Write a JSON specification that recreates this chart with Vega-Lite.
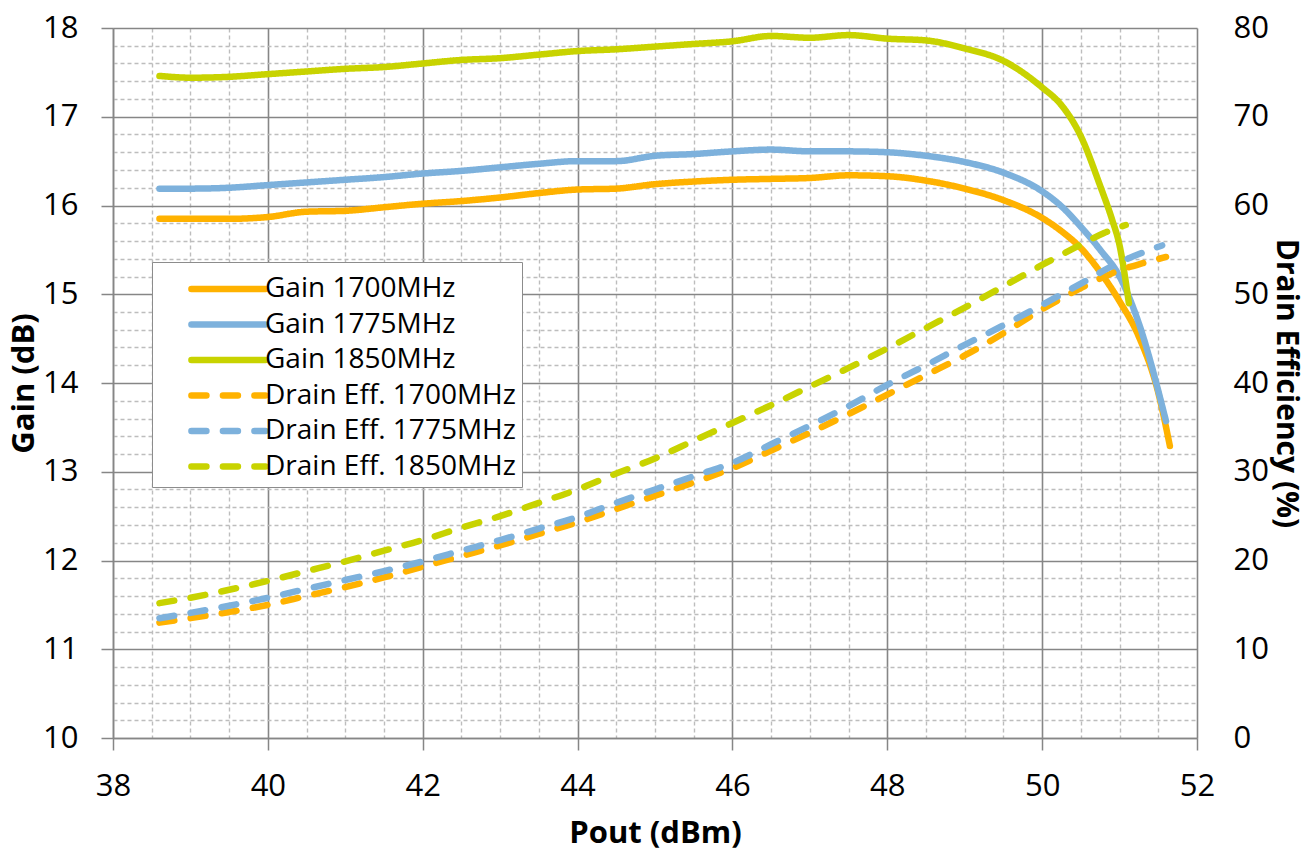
{
  "$schema": "https://vega.github.io/schema/vega-lite/v6.json",
  "width": 1084,
  "height": 710,
  "autosize": {"type": "none"},
  "padding": {"left": 113, "top": 28, "right": 118, "bottom": 116},
  "background": "white",
  "config": {
    "view": {"stroke": null},
    "font": "Open Sans",
    "axis": {
      "labelFont": "Open Sans",
      "labelFontSize": 31,
      "labelColor": "black",
      "titleFont": "Open Sans",
      "titleFontSize": 31,
      "titleFontWeight": "bold",
      "titleColor": "black",
      "domainColor": "#868686",
      "domainWidth": 1.5,
      "tickColor": "#868686",
      "tickWidth": 1.5,
      "tickSize": 12
    }
  },
  "data": {
    "values": [
      {"s": "Gain 1700MHz", "x": 38.6, "v": 15.85},
      {"s": "Gain 1700MHz", "x": 39, "v": 15.85},
      {"s": "Gain 1700MHz", "x": 39.5, "v": 15.85},
      {"s": "Gain 1700MHz", "x": 40, "v": 15.87},
      {"s": "Gain 1700MHz", "x": 40.5, "v": 15.93},
      {"s": "Gain 1700MHz", "x": 41, "v": 15.94},
      {"s": "Gain 1700MHz", "x": 41.5, "v": 15.98},
      {"s": "Gain 1700MHz", "x": 42, "v": 16.02},
      {"s": "Gain 1700MHz", "x": 42.5, "v": 16.05},
      {"s": "Gain 1700MHz", "x": 43, "v": 16.09},
      {"s": "Gain 1700MHz", "x": 43.5, "v": 16.14},
      {"s": "Gain 1700MHz", "x": 44, "v": 16.18},
      {"s": "Gain 1700MHz", "x": 44.5, "v": 16.19},
      {"s": "Gain 1700MHz", "x": 45, "v": 16.24},
      {"s": "Gain 1700MHz", "x": 45.5, "v": 16.27},
      {"s": "Gain 1700MHz", "x": 46, "v": 16.29},
      {"s": "Gain 1700MHz", "x": 46.5, "v": 16.30},
      {"s": "Gain 1700MHz", "x": 47, "v": 16.31},
      {"s": "Gain 1700MHz", "x": 47.5, "v": 16.34},
      {"s": "Gain 1700MHz", "x": 48, "v": 16.33},
      {"s": "Gain 1700MHz", "x": 48.5, "v": 16.28},
      {"s": "Gain 1700MHz", "x": 49, "v": 16.19},
      {"s": "Gain 1700MHz", "x": 49.5, "v": 16.06},
      {"s": "Gain 1700MHz", "x": 50, "v": 15.86},
      {"s": "Gain 1700MHz", "x": 50.25, "v": 15.71},
      {"s": "Gain 1700MHz", "x": 50.5, "v": 15.52},
      {"s": "Gain 1700MHz", "x": 50.75, "v": 15.25},
      {"s": "Gain 1700MHz", "x": 51, "v": 14.92},
      {"s": "Gain 1700MHz", "x": 51.25, "v": 14.52},
      {"s": "Gain 1700MHz", "x": 51.5, "v": 13.89},
      {"s": "Gain 1700MHz", "x": 51.65, "v": 13.29},

      {"s": "Gain 1775MHz", "x": 38.6, "v": 16.19},
      {"s": "Gain 1775MHz", "x": 39, "v": 16.19},
      {"s": "Gain 1775MHz", "x": 39.5, "v": 16.20},
      {"s": "Gain 1775MHz", "x": 40, "v": 16.23},
      {"s": "Gain 1775MHz", "x": 40.5, "v": 16.26},
      {"s": "Gain 1775MHz", "x": 41, "v": 16.29},
      {"s": "Gain 1775MHz", "x": 41.5, "v": 16.32},
      {"s": "Gain 1775MHz", "x": 42, "v": 16.36},
      {"s": "Gain 1775MHz", "x": 42.5, "v": 16.39},
      {"s": "Gain 1775MHz", "x": 43, "v": 16.43},
      {"s": "Gain 1775MHz", "x": 43.5, "v": 16.47},
      {"s": "Gain 1775MHz", "x": 44, "v": 16.50},
      {"s": "Gain 1775MHz", "x": 44.5, "v": 16.50},
      {"s": "Gain 1775MHz", "x": 45, "v": 16.56},
      {"s": "Gain 1775MHz", "x": 45.5, "v": 16.58},
      {"s": "Gain 1775MHz", "x": 46, "v": 16.61},
      {"s": "Gain 1775MHz", "x": 46.5, "v": 16.63},
      {"s": "Gain 1775MHz", "x": 47, "v": 16.61},
      {"s": "Gain 1775MHz", "x": 47.5, "v": 16.61},
      {"s": "Gain 1775MHz", "x": 48, "v": 16.60},
      {"s": "Gain 1775MHz", "x": 48.5, "v": 16.56},
      {"s": "Gain 1775MHz", "x": 49, "v": 16.49},
      {"s": "Gain 1775MHz", "x": 49.5, "v": 16.37},
      {"s": "Gain 1775MHz", "x": 50, "v": 16.16},
      {"s": "Gain 1775MHz", "x": 50.25, "v": 15.99},
      {"s": "Gain 1775MHz", "x": 50.5, "v": 15.76},
      {"s": "Gain 1775MHz", "x": 50.75, "v": 15.50},
      {"s": "Gain 1775MHz", "x": 51, "v": 15.20},
      {"s": "Gain 1775MHz", "x": 51.25, "v": 14.67},
      {"s": "Gain 1775MHz", "x": 51.6, "v": 13.57},

      {"s": "Gain 1850MHz", "x": 38.6, "v": 17.46},
      {"s": "Gain 1850MHz", "x": 39, "v": 17.44},
      {"s": "Gain 1850MHz", "x": 39.5, "v": 17.45},
      {"s": "Gain 1850MHz", "x": 40, "v": 17.48},
      {"s": "Gain 1850MHz", "x": 40.5, "v": 17.51},
      {"s": "Gain 1850MHz", "x": 41, "v": 17.54},
      {"s": "Gain 1850MHz", "x": 41.5, "v": 17.56},
      {"s": "Gain 1850MHz", "x": 42, "v": 17.60},
      {"s": "Gain 1850MHz", "x": 42.5, "v": 17.64},
      {"s": "Gain 1850MHz", "x": 43, "v": 17.66},
      {"s": "Gain 1850MHz", "x": 43.5, "v": 17.70},
      {"s": "Gain 1850MHz", "x": 44, "v": 17.74},
      {"s": "Gain 1850MHz", "x": 44.5, "v": 17.76},
      {"s": "Gain 1850MHz", "x": 45, "v": 17.79},
      {"s": "Gain 1850MHz", "x": 45.5, "v": 17.82},
      {"s": "Gain 1850MHz", "x": 46, "v": 17.85},
      {"s": "Gain 1850MHz", "x": 46.5, "v": 17.91},
      {"s": "Gain 1850MHz", "x": 47, "v": 17.89},
      {"s": "Gain 1850MHz", "x": 47.5, "v": 17.92},
      {"s": "Gain 1850MHz", "x": 48, "v": 17.88},
      {"s": "Gain 1850MHz", "x": 48.5, "v": 17.86},
      {"s": "Gain 1850MHz", "x": 49, "v": 17.77},
      {"s": "Gain 1850MHz", "x": 49.5, "v": 17.63},
      {"s": "Gain 1850MHz", "x": 50, "v": 17.33},
      {"s": "Gain 1850MHz", "x": 50.25, "v": 17.13},
      {"s": "Gain 1850MHz", "x": 50.5, "v": 16.78},
      {"s": "Gain 1850MHz", "x": 50.75, "v": 16.22},
      {"s": "Gain 1850MHz", "x": 50.9, "v": 15.85},
      {"s": "Gain 1850MHz", "x": 51, "v": 15.55},
      {"s": "Gain 1850MHz", "x": 51.12, "v": 14.9},

      {"s": "Drain Eff. 1700MHz", "x": 38.6, "v": 13.0},
      {"s": "Drain Eff. 1700MHz", "x": 39, "v": 13.5},
      {"s": "Drain Eff. 1700MHz", "x": 39.5, "v": 14.2},
      {"s": "Drain Eff. 1700MHz", "x": 40, "v": 15.0},
      {"s": "Drain Eff. 1700MHz", "x": 40.5, "v": 16.0},
      {"s": "Drain Eff. 1700MHz", "x": 41, "v": 17.0},
      {"s": "Drain Eff. 1700MHz", "x": 41.5, "v": 18.1},
      {"s": "Drain Eff. 1700MHz", "x": 42, "v": 19.3},
      {"s": "Drain Eff. 1700MHz", "x": 42.5, "v": 20.5},
      {"s": "Drain Eff. 1700MHz", "x": 43, "v": 21.7},
      {"s": "Drain Eff. 1700MHz", "x": 43.5, "v": 23.0},
      {"s": "Drain Eff. 1700MHz", "x": 44, "v": 24.3},
      {"s": "Drain Eff. 1700MHz", "x": 44.5, "v": 25.8},
      {"s": "Drain Eff. 1700MHz", "x": 45, "v": 27.3},
      {"s": "Drain Eff. 1700MHz", "x": 45.5, "v": 28.8},
      {"s": "Drain Eff. 1700MHz", "x": 46, "v": 30.4},
      {"s": "Drain Eff. 1700MHz", "x": 46.5, "v": 32.4},
      {"s": "Drain Eff. 1700MHz", "x": 47, "v": 34.4},
      {"s": "Drain Eff. 1700MHz", "x": 47.5, "v": 36.5},
      {"s": "Drain Eff. 1700MHz", "x": 48, "v": 38.7},
      {"s": "Drain Eff. 1700MHz", "x": 48.5, "v": 40.9},
      {"s": "Drain Eff. 1700MHz", "x": 49, "v": 43.1},
      {"s": "Drain Eff. 1700MHz", "x": 49.5, "v": 45.6},
      {"s": "Drain Eff. 1700MHz", "x": 50, "v": 48.3},
      {"s": "Drain Eff. 1700MHz", "x": 50.5, "v": 50.7},
      {"s": "Drain Eff. 1700MHz", "x": 51, "v": 52.7},
      {"s": "Drain Eff. 1700MHz", "x": 51.3, "v": 53.5},
      {"s": "Drain Eff. 1700MHz", "x": 51.6, "v": 54.2},

      {"s": "Drain Eff. 1775MHz", "x": 38.6, "v": 13.5},
      {"s": "Drain Eff. 1775MHz", "x": 39, "v": 14.1},
      {"s": "Drain Eff. 1775MHz", "x": 39.5, "v": 14.9},
      {"s": "Drain Eff. 1775MHz", "x": 40, "v": 15.8},
      {"s": "Drain Eff. 1775MHz", "x": 40.5, "v": 16.8},
      {"s": "Drain Eff. 1775MHz", "x": 41, "v": 17.8},
      {"s": "Drain Eff. 1775MHz", "x": 41.5, "v": 18.8},
      {"s": "Drain Eff. 1775MHz", "x": 42, "v": 19.9},
      {"s": "Drain Eff. 1775MHz", "x": 42.5, "v": 21.1},
      {"s": "Drain Eff. 1775MHz", "x": 43, "v": 22.3},
      {"s": "Drain Eff. 1775MHz", "x": 43.5, "v": 23.6},
      {"s": "Drain Eff. 1775MHz", "x": 44, "v": 24.9},
      {"s": "Drain Eff. 1775MHz", "x": 44.5, "v": 26.5},
      {"s": "Drain Eff. 1775MHz", "x": 45, "v": 28.0},
      {"s": "Drain Eff. 1775MHz", "x": 45.5, "v": 29.5},
      {"s": "Drain Eff. 1775MHz", "x": 46, "v": 31.0},
      {"s": "Drain Eff. 1775MHz", "x": 46.5, "v": 33.1},
      {"s": "Drain Eff. 1775MHz", "x": 47, "v": 35.2},
      {"s": "Drain Eff. 1775MHz", "x": 47.5, "v": 37.4},
      {"s": "Drain Eff. 1775MHz", "x": 48, "v": 39.8},
      {"s": "Drain Eff. 1775MHz", "x": 48.5, "v": 42.0},
      {"s": "Drain Eff. 1775MHz", "x": 49, "v": 44.3},
      {"s": "Drain Eff. 1775MHz", "x": 49.5, "v": 46.5},
      {"s": "Drain Eff. 1775MHz", "x": 50, "v": 48.8},
      {"s": "Drain Eff. 1775MHz", "x": 50.5, "v": 51.2},
      {"s": "Drain Eff. 1775MHz", "x": 51, "v": 53.6},
      {"s": "Drain Eff. 1775MHz", "x": 51.3, "v": 54.7},
      {"s": "Drain Eff. 1775MHz", "x": 51.55, "v": 55.5},

      {"s": "Drain Eff. 1850MHz", "x": 38.6, "v": 15.2},
      {"s": "Drain Eff. 1850MHz", "x": 39, "v": 15.8},
      {"s": "Drain Eff. 1850MHz", "x": 39.5, "v": 16.7},
      {"s": "Drain Eff. 1850MHz", "x": 40, "v": 17.7},
      {"s": "Drain Eff. 1850MHz", "x": 40.5, "v": 18.8},
      {"s": "Drain Eff. 1850MHz", "x": 41, "v": 19.9},
      {"s": "Drain Eff. 1850MHz", "x": 41.5, "v": 21.1},
      {"s": "Drain Eff. 1850MHz", "x": 42, "v": 22.3},
      {"s": "Drain Eff. 1850MHz", "x": 42.5, "v": 23.7},
      {"s": "Drain Eff. 1850MHz", "x": 43, "v": 25.0},
      {"s": "Drain Eff. 1850MHz", "x": 43.5, "v": 26.5},
      {"s": "Drain Eff. 1850MHz", "x": 44, "v": 28.0},
      {"s": "Drain Eff. 1850MHz", "x": 44.5, "v": 29.8},
      {"s": "Drain Eff. 1850MHz", "x": 45, "v": 31.5},
      {"s": "Drain Eff. 1850MHz", "x": 45.5, "v": 33.5},
      {"s": "Drain Eff. 1850MHz", "x": 46, "v": 35.5},
      {"s": "Drain Eff. 1850MHz", "x": 46.5, "v": 37.5},
      {"s": "Drain Eff. 1850MHz", "x": 47, "v": 39.6},
      {"s": "Drain Eff. 1850MHz", "x": 47.5, "v": 41.7},
      {"s": "Drain Eff. 1850MHz", "x": 48, "v": 43.9},
      {"s": "Drain Eff. 1850MHz", "x": 48.5, "v": 46.2},
      {"s": "Drain Eff. 1850MHz", "x": 49, "v": 48.5},
      {"s": "Drain Eff. 1850MHz", "x": 49.5, "v": 50.9},
      {"s": "Drain Eff. 1850MHz", "x": 50, "v": 53.3},
      {"s": "Drain Eff. 1850MHz", "x": 50.5, "v": 55.6},
      {"s": "Drain Eff. 1850MHz", "x": 50.8, "v": 56.9},
      {"s": "Drain Eff. 1850MHz", "x": 51.08, "v": 57.8}
    ]
  },
  "layer": [
    {
      "transform": [{"filter": "indexof(datum.s, 'Gain') === 0"}],
      "mark": {"type": "line", "strokeWidth": 6.5, "strokeCap": "round", "strokeJoin": "round", "interpolate": "monotone"},
      "encoding": {
        "x": {
          "field": "x", "type": "quantitative",
          "scale": {"domain": [38, 52], "nice": false, "zero": false},
          "axis": {
            "title": "Pout (dBm)",
            "values": [38, 38.5, 39, 39.5, 40, 40.5, 41, 41.5, 42, 42.5, 43, 43.5, 44, 44.5, 45, 45.5, 46, 46.5, 47, 47.5, 48, 48.5, 49, 49.5, 50, 50.5, 51, 51.5, 52],
            "labelExpr": "datum.value % 2 === 0 ? format(datum.value, 'd') : ''",
            "labelOverlap": false,
            "labelFlush": false,
            "labelPadding": 21,
            "titlePadding": 17,
            "tickOpacity": {"condition": {"test": "datum.value % 2 === 0", "value": 1}, "value": 0},
            "grid": true,
            "gridColor": {"condition": {"test": "datum.value % 2 === 0", "value": "#868686"}, "value": "#BDBDBD"},
            "gridWidth": {"condition": {"test": "datum.value % 2 === 0", "value": 1.6}, "value": 1.4},
            "gridDash": {"condition": {"test": "datum.value % 2 === 0", "value": []}, "value": [4, 3]}
          }
        },
        "y": {
          "field": "v", "type": "quantitative",
          "scale": {"domain": [10, 18], "nice": false, "zero": false},
          "axis": {
            "title": "Gain (dB)",
            "orient": "left",
            "values": [10, 10.2, 10.4, 10.6, 10.8, 11, 11.2, 11.4, 11.6, 11.8, 12, 12.2, 12.4, 12.6, 12.8, 13, 13.2, 13.4, 13.6, 13.8, 14, 14.2, 14.4, 14.6, 14.8, 15, 15.2, 15.4, 15.6, 15.8, 16, 16.2, 16.4, 16.6, 16.8, 17, 17.2, 17.4, 17.6, 17.8, 18],
            "labelExpr": "abs(datum.value - round(datum.value)) < 0.001 ? format(datum.value, 'd') : ''",
            "labelOverlap": false,
            "labelFlush": false,
            "labelPadding": 23,
            "titlePadding": 2,
            "tickOpacity": {"condition": {"test": "abs(datum.value - round(datum.value)) < 0.001", "value": 1}, "value": 0},
            "grid": true,
            "gridColor": {"condition": {"test": "abs(datum.value - round(datum.value)) < 0.001", "value": "#868686"}, "value": "#BDBDBD"},
            "gridWidth": {"condition": {"test": "abs(datum.value - round(datum.value)) < 0.001", "value": 1.6}, "value": 1.4},
            "gridDash": {"condition": {"test": "abs(datum.value - round(datum.value)) < 0.001", "value": []}, "value": [4, 3]}
          }
        },
        "color": {
          "field": "s", "type": "nominal",
          "scale": {
            "domain": ["Gain 1700MHz", "Gain 1775MHz", "Gain 1850MHz", "Drain Eff. 1700MHz", "Drain Eff. 1775MHz", "Drain Eff. 1850MHz"],
            "range": ["#FFB200", "#7DB1DC", "#C8D300", "#FFB200", "#7DB1DC", "#C8D300"]
          },
          "legend": {
            "title": null, "orient": "none", "legendX": 39, "legendY": 234,
            "symbolType": "M0.71,0L4.94,0", "symbolSize": 1225, "symbolStrokeWidth": 6.5,
            "labelOffset": 65, "labelFont": "Open Sans", "labelFontSize": 28, "labelColor": "black", "labelLimit": 0,
            "padding": 6, "rowPadding": 0.5, "strokeColor": "#8C8C8C", "fillColor": "white",
            "encode": {"symbols": {"update": {"strokeCap": {"value": "round"}}}}
          }
        },
        "strokeDash": {
          "field": "s", "type": "nominal",
          "scale": {
            "domain": ["Gain 1700MHz", "Gain 1775MHz", "Gain 1850MHz", "Drain Eff. 1700MHz", "Drain Eff. 1775MHz", "Drain Eff. 1850MHz"],
            "range": [[1, 0], [1, 0], [1, 0], [15, 16.5], [15, 16.5], [15, 16.5]]
          },
          "legend": {
            "title": null, "orient": "none", "legendX": 39, "legendY": 234,
            "symbolType": "M0.71,0L4.94,0", "symbolSize": 1225, "symbolStrokeWidth": 6.5,
            "labelOffset": 65, "labelFont": "Open Sans", "labelFontSize": 28, "labelColor": "black", "labelLimit": 0,
            "padding": 6, "rowPadding": 0.5, "strokeColor": "#8C8C8C", "fillColor": "white",
            "encode": {"symbols": {"update": {"strokeCap": {"value": "round"}}}}
          }
        }
      }
    },
    {
      "transform": [{"filter": "indexof(datum.s, 'Drain') === 0"}],
      "mark": {"type": "line", "strokeWidth": 6.5, "strokeCap": "round", "strokeJoin": "round", "interpolate": "monotone"},
      "encoding": {
        "x": {
          "field": "x", "type": "quantitative",
          "scale": {"domain": [38, 52], "nice": false, "zero": false},
          "axis": null
        },
        "y": {
          "field": "v", "type": "quantitative",
          "scale": {"domain": [0, 80], "nice": false, "zero": false},
          "axis": {
            "title": "Drain Efficiency (%)",
            "titleFontSize": 30,
            "orient": "right",
            "values": [0, 10, 20, 30, 40, 50, 60, 70, 80],
            "grid": false,
            "ticks": false,
            "domain": false,
            "labelPadding": 36,
            "titlePadding": 2,
            "labelFlush": false,
            "labelOverlap": false
          }
        },
        "color": {
          "field": "s", "type": "nominal",
          "scale": {
            "domain": ["Gain 1700MHz", "Gain 1775MHz", "Gain 1850MHz", "Drain Eff. 1700MHz", "Drain Eff. 1775MHz", "Drain Eff. 1850MHz"],
            "range": ["#FFB200", "#7DB1DC", "#C8D300", "#FFB200", "#7DB1DC", "#C8D300"]
          },
          "legend": {
            "title": null, "orient": "none", "legendX": 39, "legendY": 234,
            "symbolType": "M0.71,0L4.94,0", "symbolSize": 1225, "symbolStrokeWidth": 6.5,
            "labelOffset": 65, "labelFont": "Open Sans", "labelFontSize": 28, "labelColor": "black", "labelLimit": 0,
            "padding": 6, "rowPadding": 0.5, "strokeColor": "#8C8C8C", "fillColor": "white",
            "encode": {"symbols": {"update": {"strokeCap": {"value": "round"}}}}
          }
        },
        "strokeDash": {
          "field": "s", "type": "nominal",
          "scale": {
            "domain": ["Gain 1700MHz", "Gain 1775MHz", "Gain 1850MHz", "Drain Eff. 1700MHz", "Drain Eff. 1775MHz", "Drain Eff. 1850MHz"],
            "range": [[1, 0], [1, 0], [1, 0], [15, 16.5], [15, 16.5], [15, 16.5]]
          },
          "legend": {
            "title": null, "orient": "none", "legendX": 39, "legendY": 234,
            "symbolType": "M0.71,0L4.94,0", "symbolSize": 1225, "symbolStrokeWidth": 6.5,
            "labelOffset": 65, "labelFont": "Open Sans", "labelFontSize": 28, "labelColor": "black", "labelLimit": 0,
            "padding": 6, "rowPadding": 0.5, "strokeColor": "#8C8C8C", "fillColor": "white",
            "encode": {"symbols": {"update": {"strokeCap": {"value": "round"}}}}
          }
        }
      }
    }
  ],
  "resolve": {"scale": {"y": "independent"}, "axis": {"x": "independent"}}
}
